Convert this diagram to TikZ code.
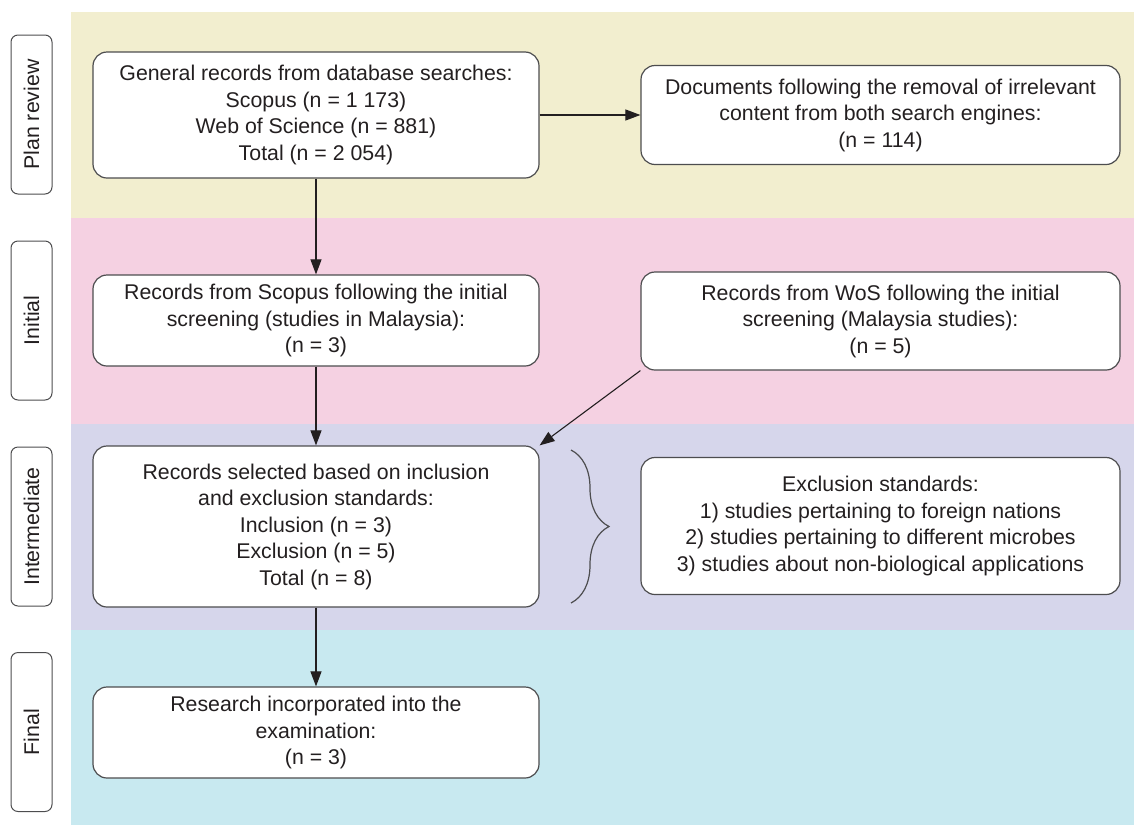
\documentclass[tikz,border=0pt]{standalone}
\usepackage{fontspec}
\setmainfont{Liberation Sans}
\usetikzlibrary{arrows.meta,decorations.pathreplacing}
\definecolor{planbg}{HTML}{F2EECF}
\definecolor{initbg}{HTML}{F5D1E2}
\definecolor{interbg}{HTML}{D6D6EB}
\definecolor{finalbg}{HTML}{C8E9F0}
\definecolor{inkgray}{HTML}{231F20}
\definecolor{edgegray}{HTML}{4D4D4F}

\begin{document}
\begin{tikzpicture}[x=1pt,y=-1pt,
    font=\fontsize{21.3}{26.5}\selectfont, text=inkgray,
    recbox/.style={draw=edgegray, line width=1.2pt, fill=white,
        rounded corners=14pt, align=center, inner sep=0pt},
    phasebox/.style={draw=edgegray, line width=1pt, fill=white,
        rounded corners=7pt, rotate=90, minimum width=159pt,
        minimum height=41pt, inner sep=0pt},
    flow/.style={-{Triangle[length=15pt,width=11pt]}, line width=1.1pt, draw=inkgray}]
    \useasboundingbox (0,0) rectangle (1134,825);

    % stage bands
    \fill[planbg]  (71,12)  rectangle (1134,218);
    \fill[initbg]  (71,218) rectangle (1134,424);
    \fill[interbg] (71,424) rectangle (1134,630);
    \fill[finalbg] (71,630) rectangle (1134,825);

    % stage labels
    \foreach \i/\y/\t in {1/114.5/Plan review, 2/320.5/Initial,
                          3/526.5/Intermediate, 4/732/Final} {
        \node[phasebox] (ph\i) at (31.5,\y) {\t};
    }

    % records
    \node[recbox, minimum width=446pt, minimum height=126pt] (gen) at (316,115)
        {General records from database searches:\\ Scopus (n = 1 173)\\
         Web of Science (n = 881)\\ Total (n = 2 054)};
    \node[recbox, minimum width=479pt, minimum height=99pt] (docs) at (880.5,115)
        {Documents following the removal of irrelevant\\
         content from both search engines:\\ (n = 114)};
    \node[recbox, minimum width=446pt, minimum height=91pt] (scop) at (316,320.5)
        {Records from Scopus following the initial\\
         screening (studies in Malaysia):\\ (n = 3)};
    \node[recbox, minimum width=479pt, minimum height=98pt] (wos) at (880.5,321)
        {Records from WoS following the initial\\
         screening (Malaysia studies):\\ (n = 5)};
    \node[recbox, minimum width=446pt, minimum height=161pt] (sel) at (316,526.5)
        {Records selected based on inclusion\\ and exclusion standards:\\
         Inclusion (n = 3)\\ Exclusion (n = 5)\\ Total (n = 8)};
    \node[recbox, minimum width=479pt, minimum height=137pt] (excl) at (880.5,526)
        {Exclusion standards:\\ 1) studies pertaining to foreign nations\\
         2) studies pertaining to different microbes\\
         3) studies about non-biological applications};
    \node[recbox, minimum width=446pt, minimum height=91pt] (fin) at (316,732.5)
        {Research incorporated into the\\ examination:\\ (n = 3)};

    % arrows
    \draw[flow] (gen) -- (docs);
    \draw[flow] (gen) -- (scop);
    \draw[flow] (scop) -- (sel);
    \draw[flow] (wos.south west) -- (sel.north east);
    \draw[flow] (sel) -- (fin);

    % brace
    \draw[edgegray, line width=1.2pt, decorate,
          decoration={brace, amplitude=38pt}] (571,450) -- (571,603);
\end{tikzpicture}
\end{document}
